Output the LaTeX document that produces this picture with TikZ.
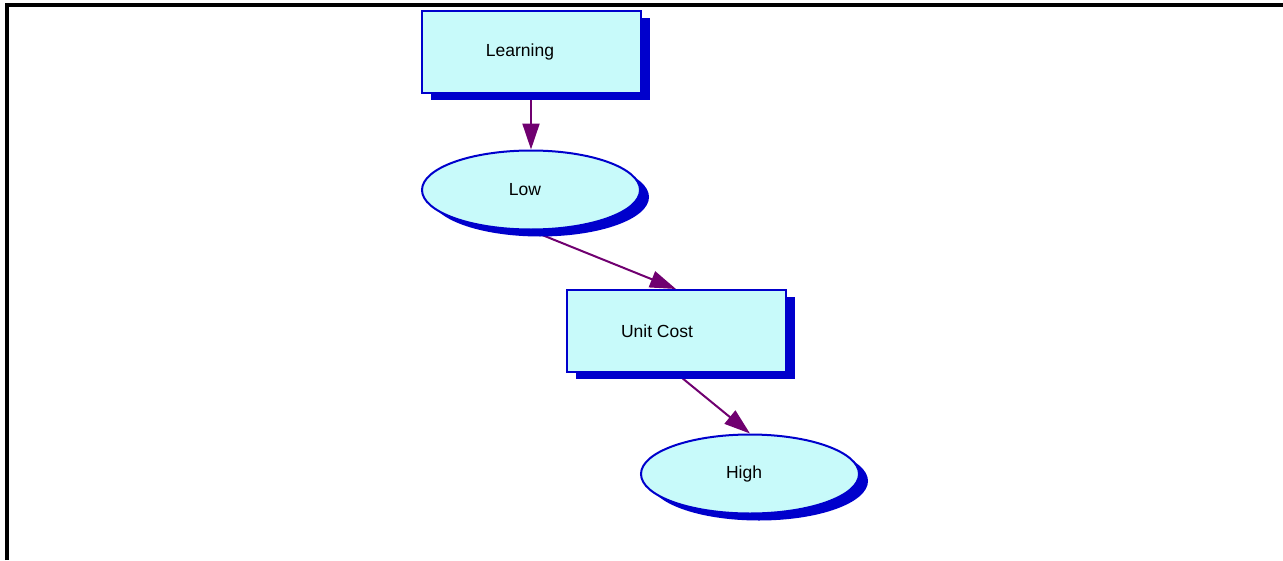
\documentclass[tikz,border=0pt]{standalone}
\usepackage{fontspec}
\setmainfont{Liberation Sans}
\usetikzlibrary{shapes.geometric,shadows,arrows.meta,backgrounds}
\definecolor{nodefill}{RGB}{200,250,250}
\definecolor{nodeedge}{RGB}{0,0,204}
\definecolor{linkcolor}{RGB}{112,0,112}

\begin{document}
\begin{tikzpicture}[x=1pt, y=-1pt]
        \tikzset{>={Triangle[length=26pt,width=17pt]}}
        \tikzset{box/.style={draw=nodeedge, line width=2pt, fill=nodefill,
            minimum width=219pt, minimum height=82pt, font=\fontsize{17.5}{20}\selectfont,
            drop shadow={shadow xshift=9pt, shadow yshift=-7pt, fill=nodeedge, opacity=1}}}
        \tikzset{oval/.style={box, ellipse, minimum width=218pt, minimum height=79pt}}
        \tikzset{pad/.style={execute at end node=\hspace*{#1}}}
        \tikzset{link/.style={->, line width=2pt, color=linkcolor}}
        \useasboundingbox (0,0) rectangle (1283,560);
        \draw[line width=3.5pt] (7,560) -- (7,5) -- (1283,5);
        \node[box, pad=22pt] (learning) at (531,52) {Learning};
        \node[oval, pad=12pt] (low) at (531,190) {Low};
        \node[box, pad=38pt] (unitcost) at (676,331) {Unit Cost};
        \node[oval, pad=12pt] (high) at (750,474) {High};
        \begin{scope}[on background layer]
            \draw[link] (learning.south) -- (low.north);
            \draw[link] (low.south) -- (unitcost.north);
            \draw[link] (unitcost.south) -- (high.north);
        \end{scope}
    \end{tikzpicture}
\end{document}
